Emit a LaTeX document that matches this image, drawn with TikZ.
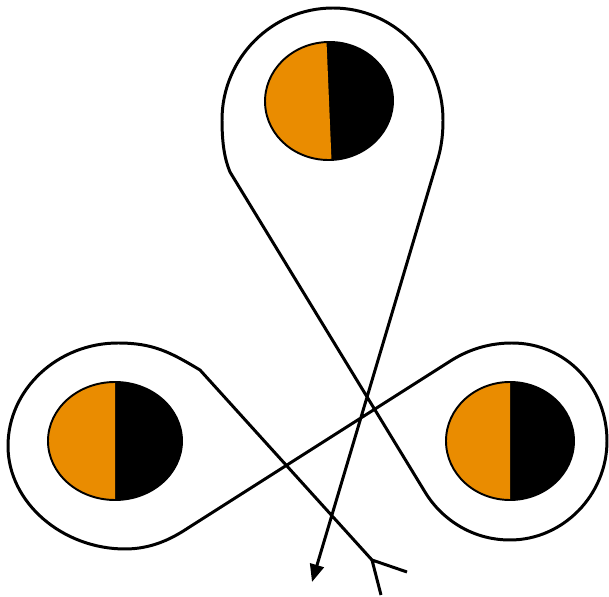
\documentclass[tikz,border=0pt]{standalone}
\usepackage{xcolor}
\usepackage{tikz}
\usetikzlibrary{arrows.meta}
\definecolor{eyeorange}{RGB}{234,140,0}

\begin{document}
\begin{tikzpicture}[x=0.02cm, y=-0.02cm,
  strand/.style={line width=1.7pt, line join=round},
  eyerim/.style={draw, line width=1.1pt},
  tip/.style={-{Triangle[length=10pt,width=8pt]}},
]
\useasboundingbox (0,0) rectangle (609,597);
% Eyes
\foreach \name/\cx/\cy/\rx/\rot in {top/329/101/64/2.4, left/115/441/67/0, right/510/441/64/0} {
  \begin{scope}[shift={(\cx,\cy)}, rotate=\rot]
    \fill[black] (0,0) ellipse [x radius=\rx, y radius=59];
    \fill[eyeorange] (0,-59) arc [start angle=270, end angle=90, x radius=\rx, y radius=59] -- cycle;
    \draw[eyerim] (0,0) ellipse [x radius=\rx, y radius=59];
    \coordinate (\name) at (0,0);
  \end{scope}
}

% Strand
\coordinate (tail) at (372,560);
\coordinate (featherA) at (407,572);
\coordinate (featherB) at (381,595);
\coordinate (left-in) at (200,370);
\coordinate (left-out) at (188,528);
\coordinate (right-in) at (452,360);
\coordinate (right-out) at (425,492);
\coordinate (top-in) at (230,172);
\coordinate (top-out) at (437,162);
\coordinate (head) at (312,582);

\draw[strand] (featherA) -- (tail) -- (featherB);
\draw[strand, tip] (tail) -- (left-in)
  .. controls (170,352) and (153,343) .. (118,343)
  .. controls (58,343) and (8,389) .. (8,446)
  .. controls (8,503) and (63,549) .. (125,549)
  .. controls (150,549) and (170,540) .. (left-out)
  -- (right-in)
  .. controls (470,349) and (490,343) .. (512,343)
  .. controls (566,343) and (607,387) .. (607,441)
  .. controls (607,495) and (563,540) .. (510,540)
  .. controls (470,540) and (440,517) .. (right-out)
  -- (top-in)
  .. controls (225,160) and (222,145) .. (222,120)
  .. controls (222,58) and (272,8) .. (333,8)
  .. controls (394,8) and (443,58) .. (443,120)
  .. controls (443,140) and (440,152) .. (top-out)
  -- (head);
\end{tikzpicture}
\end{document}
